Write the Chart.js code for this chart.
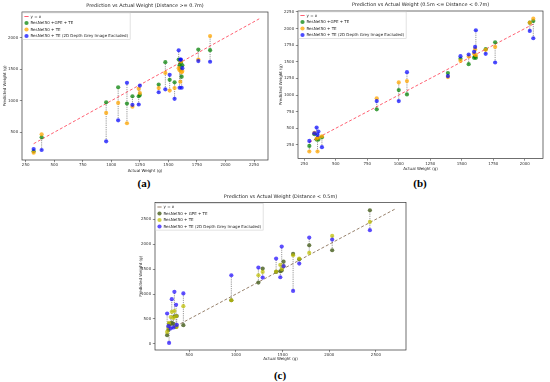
<!DOCTYPE html>
<html>
<head>
<meta charset="utf-8">
<script src="https://cdn.jsdelivr.net/npm/chart.js@4.4.1/dist/chart.umd.min.js"></script>
<style>
    body { margin: 0; width: 550px; height: 382px; background: #fff; position: relative; overflow: hidden; }
    canvas { position: absolute; }
    .tag { position: absolute; font: bold 11px "Liberation Serif", serif; color: #000; transform: translate(-50%, -50%); }
</style>
</head>
<body>
<canvas id="chartA"></canvas>
<canvas id="chartB"></canvas>
<canvas id="chartC"></canvas>
<div class="tag" style="left:144px; top:183px">(a)</div>
<div class="tag" style="left:420px; top:183px">(b)</div>
<div class="tag" style="left:280px; top:375px">(c)</div>
<script>
// (a) Distance >= 0.7m
var actualA = [320, 390, 955, 1060, 1137, 1185, 1240, 1250, 1415, 1473, 1511, 1554, 1590, 1598, 1604, 1610, 1616, 1622, 1762, 1865];
var gpeA    = [200, 421, 975, 1213, 954, 1070, 1070, 1090, 1255, 1609, 1330, 1290, 1651, 1560, 1500, 1600, 1380, 1560, 1808, 1799];
var teA     = [178, 468, 806, 965, 643, 905, 1190, 1120, 1200, 1440, 1160, 1200, 1515, 1480, 1300, 1620, 1450, 1470, 1650, 2022];
var noDepA  = [236, 220, 357, 690, 1282, 935, 940, 1240, 1134, 1180, 1410, 1030, 1797, 1205, 1650, 1650, 1205, 1515, 1627, 1616];
var lineA   = [320, 2295];
var xTicksA = [250, 500, 750, 1000, 1250, 1500, 1750, 2000, 2250];
var yTicksA = [500, 1000, 1500, 2000];

// (b) 0.5m <= Distance < 0.7m
var actualB = [290, 330, 348, 355, 362, 390, 825, 1000, 1065, 1390, 1490, 1555, 1598, 1606, 1612, 1690, 1765, 2040, 2068];
var gpeB    = [235, 410, 330, 350, 330, 365, 785, 1075, 1010, 1330, 1545, 1465, 1560, 1580, 1560, 1690, 1795, 2090, 2115];
var teB     = [150, 430, 345, 150, 360, 380, 950, 1190, 1210, 1270, 1515, 1580, 1620, 1690, 1600, 1680, 1725, 2090, 2150];
var noDepB  = [310, 425, 510, 400, 450, 215, 910, 910, 1345, 1285, 1585, 1610, 1650, 1725, 1975, 1620, 1490, 1965, 1855];
var lineB   = [290, 2068];
var xTicksB = [250, 500, 750, 1000, 1250, 1500, 1750, 2000];
var yTicksB = [250, 500, 750, 1000, 1250, 1500, 1750, 2000, 2250];

// (c) Distance < 0.5m
var actualC = [262, 276, 283, 300, 312, 330, 340, 358, 365, 436, 950, 1240, 1286, 1430, 1475, 1490, 1510, 1612, 1678, 1785, 2031, 2435];
var gpeC    = [175, 280, 400, 400, 420, 402, 555, 340, 560, 375, 876, 1230, 1511, 1444, 1457, 1470, 1650, 1805, 1698, 1979, 1878, 2681];
var teC     = [240, 330, 420, 540, 643, 522, 660, 555, 342, 757, 876, 1377, 1444, 1450, 1584, 1500, 1560, 1778, 1711, 1825, 2166, 2447];
var noDepC  = [610, 355, 20, 310, 898, 330, 1044, 783, 380, 1012, 1377, 1531, 1330, 1711, 1337, 1952, 1560, 1063, 1611, 2132, 2092, 2280];
var lineC   = [262, 2700];
var xTicksC = [500, 1000, 1500, 2000, 2500];
var yTicksC = [0, 500, 1000, 1500, 2000, 2500];

var FONT = "'DejaVu Sans', sans-serif";
var SMALL = 4;

// frame round the axes, title over the axes and a box round the legend
var axesDecor = {
    id: 'axesDecor',
    afterDraw: function(chart, args, opts) {
        var ctx = chart.ctx, a = chart.chartArea;
        ctx.save();
        ctx.strokeStyle = '#333';
        ctx.lineWidth = 0.7;
        ctx.strokeRect(a.left, a.top, a.right - a.left, a.bottom - a.top);

        var hb = chart.legend.legendHitBoxes;
        if (hb && hb.length) {
            var l = 1e9, t = 1e9, r = -1e9, b = -1e9;
            hb.forEach(function(h) {
                l = Math.min(l, h.left); t = Math.min(t, h.top);
                r = Math.max(r, h.left + h.width); b = Math.max(b, h.top + h.height);
            });
            ctx.strokeStyle = '#cfcfcf';
            ctx.lineWidth = 0.6;
            ctx.strokeRect(l - 2, t - 1.6, r - l + 4, b - t + 3.2);
        }

        ctx.fillStyle = '#222';
        ctx.font = '4.9px ' + FONT;
        ctx.textAlign = 'center';
        ctx.textBaseline = 'middle';
        ctx.fillText(opts.text, (a.left + a.right) / 2, a.top - opts.gap);
        ctx.restore();
    }
};

function drawPanel(id, box, area, yTitleX, xTitleY, range, xTicks, yTicks, actual, gpe, te, noDep, line, colors, labels, title) {
    var cv = document.getElementById(id);
    cv.width = box.w;
    cv.height = box.h;
    cv.style.left = box.x + 'px';
    cv.style.top = box.y + 'px';

    var lh = SMALL * 1.2;
    var padL = yTitleX - box.x - lh / 2;
    var padB = box.y + box.h - (xTitleY + lh / 2);
    var yW = area.l - box.x - padL;
    var xH = xTitleY + lh / 2 - area.b;

    // grey dashed drops joining the three predictions of one sample
    var drops = [];
    for (var i = 0; i < actual.length; i++) {
        var v = [gpe[i], te[i], noDep[i]];
        drops.push({x: actual[i], y: Math.min.apply(null, v)});
        drops.push({x: actual[i], y: Math.max.apply(null, v)});
        drops.push({x: actual[i], y: null});
    }
    function pts(arr) {
        return actual.map(function(x, i) { return {x: x, y: arr[i]}; });
    }
    function dots(label, arr, c, ord) {
        return {label: label, data: pts(arr), backgroundColor: c, borderColor: c, borderWidth: 0,
                pointRadius: 2.1, pointHoverRadius: 2.1, pointStyle: 'circle', order: ord};
    }

    function axis(min, max, ticks, titleText, isX) {
        return {
            type: 'linear', min: min, max: max,
            afterBuildTicks: function(s) { s.ticks = ticks.map(function(t) { return {value: t}; }); },
            afterFit: function(s) { if (isX) s.height = xH; else s.width = yW; },
            ticks: {font: {family: FONT, size: SMALL}, color: '#333', padding: isX ? 0.5 : 1.6,
                    includeBounds: false, autoSkip: false, maxRotation: 0,
                    callback: function(val) { return String(val); }},
            grid: {drawOnChartArea: false, drawTicks: true, tickLength: 2.2, color: '#444', lineWidth: 0.6},
            border: {display: false},
            title: {display: true, text: titleText, padding: 0, color: '#222', font: {family: FONT, size: SMALL, lineHeight: 1.2}}
        };
    }

    new Chart(cv, {
        type: 'scatter',
        data: {
            datasets: [
                {type: 'line', label: labels[0], data: [{x: line[0], y: line[0]}, {x: line[1], y: line[1]}],
                 borderColor: colors[0], backgroundColor: colors[0], borderDash: [3, 2], borderWidth: 0.9,
                 pointRadius: 0, pointStyle: 'line', fill: false, order: 4},
                dots(labels[1], gpe, colors[1], 3),
                dots(labels[2], te, colors[2], 2),
                dots(labels[3], noDep, colors[3], 1),
                {type: 'line', label: '', data: drops, borderColor: 'rgba(70,70,70,0.75)', borderDash: [1.2, 1],
                 borderWidth: 0.75, pointRadius: 0, fill: false, spanGaps: false, order: 5}
            ]
        },
        options: {
            responsive: false,
            devicePixelRatio: 1,
            animation: false,
            layout: {padding: {left: padL, right: box.x + box.w - area.r, top: area.t - box.y, bottom: padB}},
            scales: {
                x: axis(range[0], range[1], xTicks, 'Actual Weight (g)', true),
                y: axis(range[2], range[3], yTicks, 'Predicted Weight (g)', false)
            },
            plugins: {
                tooltip: {enabled: false},
                title: {display: false},
                axesDecor: {text: title, gap: 6},
                legend: {
                    position: 'chartArea',
                    align: 'start',
                    // the chartArea legend starts at the canvas top, an empty title pushes it down into the axes
                    title: {display: true, text: '', font: {size: 1, lineHeight: 1}, padding: {top: area.t - box.y - 1, bottom: 0}},
                    labels: {
                        usePointStyle: true, boxHeight: 3, padding: 2.5, color: '#222',
                        font: {family: FONT, size: SMALL},
                        filter: function(item) { return item.datasetIndex < 4; },
                        sort: function(p, q) { return p.datasetIndex - q.datasetIndex; }
                    }
                }
            }
        },
        plugins: [axesDecor]
    });
}

var colorsAB = ['rgba(255,0,30,0.7)', 'rgba(0,128,0,0.72)', 'rgba(255,165,0,0.75)', 'rgba(0,0,255,0.7)'];
var colorsC = ['rgba(110,80,50,0.8)', 'rgba(85,107,47,0.88)', 'rgba(191,191,0,0.72)', 'rgba(40,20,255,0.75)'];
var labelsAB = ['y = x', 'ResNet50 +GPE + TE', 'ResNet50 + TE', 'ResNet50 + TE (2D Depth Grey Image Excluded)'];
var labelsC = ['y = x', 'ResNet50 + GPE + TE', 'ResNet50 + TE', 'ResNet50 + TE (2D Depth Grey Image Excluded)'];

drawPanel('chartA', {x: 0, y: 0, w: 275, h: 176}, {l: 22, r: 268, t: 12, b: 160}, 4.5, 170.5,
    [218, 2372, 62, 2403], xTicksA, yTicksA, actualA, gpeA, teA, noDepA, lineA, colorsAB, labelsAB,
    'Prediction vs Actual Weight (Distance >= 0.7m)');

drawPanel('chartB', {x: 275, y: 0, w: 275, h: 176}, {l: 298, r: 543, t: 11, b: 158.5}, 281, 169,
    [200, 2145, 45, 2265], xTicksB, yTicksB, actualB, gpeB, teB, noDepB, lineB, colorsAB, labelsAB,
    'Prediction vs Actual Weight (0.5m <= Distance < 0.7m)');

drawPanel('chartC', {x: 130, y: 190, w: 290, h: 176}, {l: 155, r: 406, t: 202.5, b: 350}, 141, 359,
    [132, 2822, -122, 2836], xTicksC, yTicksC, actualC, gpeC, teC, noDepC, lineC, colorsC, labelsC,
    'Prediction vs Actual Weight (Distance < 0.5m)');
</script>
</body>
</html>
